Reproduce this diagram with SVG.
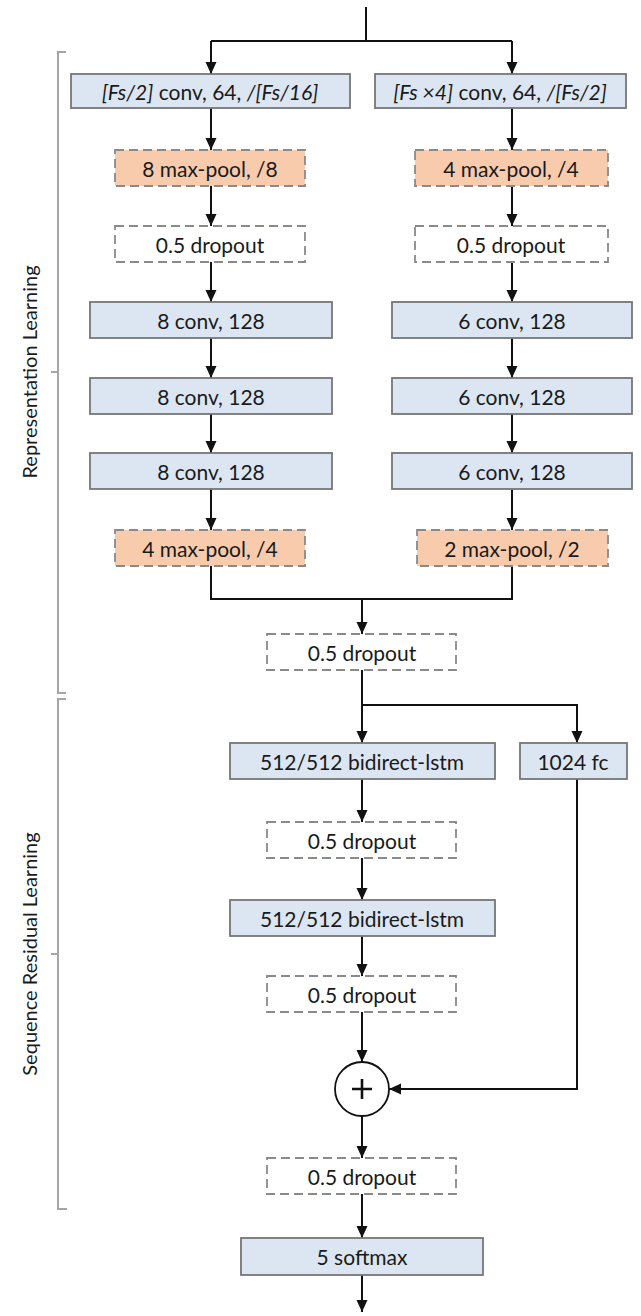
<svg xmlns="http://www.w3.org/2000/svg" width="641" height="1316" viewBox="0 0 641 1316">
  <style>
    .blue { fill: #dce6f2; stroke: #767676; stroke-width: 1.8; }
    .pool { fill: #f8cbad; stroke: #8a8a8a; stroke-width: 1.8; stroke-dasharray: 9 5; }
    .drop { fill: #ffffff; stroke: #8a8a8a; stroke-width: 1.8; stroke-dasharray: 9 5; }
    .lbl { font-family: Lato, "Open Sans", sans-serif; font-size: 21px; fill: #1a1a1a; text-anchor: middle; dominant-baseline: central; }
    .it { font-style: italic; }
    .edge { fill: none; stroke: #111111; stroke-width: 2; }
    .brk { fill: none; stroke: #a6a6a6; stroke-width: 2; }
    .side { font-family: Lato, "Open Sans", sans-serif; font-size: 20px; fill: #1a1a1a; text-anchor: middle; dominant-baseline: central; }
  </style>
  <defs>
    <marker id="arr" markerUnits="userSpaceOnUse" markerWidth="12" markerHeight="12" refX="12" refY="6" orient="auto">
      <path d="M0,0.5 L12,6 L0,11.5 z" fill="#111111"/>
    </marker>
  </defs>
  <rect width="641" height="1316" fill="#ffffff"/>

  <!-- section brackets -->
  <g id="brackets">
    <path class="brk" d="M66,52 H58 V693 H66 M58,372 H51"/>
    <path class="brk" d="M66,699 H58 V1209 H67 M58,954 H51"/>
    <text class="side" transform="translate(29,372) rotate(-90)">Representation Learning</text>
    <text class="side" transform="translate(29,954) rotate(-90)">Sequence Residual Learning</text>
  </g>

  <!-- connectors -->
  <g id="connectors">
    <path class="edge" d="M366,7 V41"/>
    <path class="edge" d="M211,41 H512"/>
    <path class="edge" d="M211,41 V74" marker-end="url(#arr)"/>
    <path class="edge" d="M512,41 V74" marker-end="url(#arr)"/>
    <!-- left branch -->
    <path class="edge" d="M211,108 V150" marker-end="url(#arr)"/>
    <path class="edge" d="M211,186 V226" marker-end="url(#arr)"/>
    <path class="edge" d="M211,262 V302" marker-end="url(#arr)"/>
    <path class="edge" d="M211,338 V378" marker-end="url(#arr)"/>
    <path class="edge" d="M211,414 V453" marker-end="url(#arr)"/>
    <path class="edge" d="M211,489 V530" marker-end="url(#arr)"/>
    <!-- right branch -->
    <path class="edge" d="M512,108 V150" marker-end="url(#arr)"/>
    <path class="edge" d="M512,186 V226" marker-end="url(#arr)"/>
    <path class="edge" d="M512,262 V302" marker-end="url(#arr)"/>
    <path class="edge" d="M512,338 V378" marker-end="url(#arr)"/>
    <path class="edge" d="M512,414 V453" marker-end="url(#arr)"/>
    <path class="edge" d="M512,489 V530" marker-end="url(#arr)"/>
    <!-- merge -->
    <path class="edge" d="M211,566 V599 H512 V566"/>
    <path class="edge" d="M362,599 V634" marker-end="url(#arr)"/>
    <!-- split to lstm and fc -->
    <path class="edge" d="M362,670 V705"/>
    <path class="edge" d="M362,705 V743" marker-end="url(#arr)"/>
    <path class="edge" d="M362,705 H577 V743" marker-end="url(#arr)"/>
    <!-- main chain -->
    <path class="edge" d="M362,779 V822" marker-end="url(#arr)"/>
    <path class="edge" d="M362,858 V900" marker-end="url(#arr)"/>
    <path class="edge" d="M362,936 V976" marker-end="url(#arr)"/>
    <path class="edge" d="M362,1012 V1062" marker-end="url(#arr)"/>
    <path class="edge" d="M362,1116 V1158" marker-end="url(#arr)"/>
    <path class="edge" d="M362,1194 V1238" marker-end="url(#arr)"/>
    <path class="edge" d="M362,1275 V1312" marker-end="url(#arr)"/>
    <!-- residual skip -->
    <path class="edge" d="M577,779 V1089 H389" marker-end="url(#arr)"/>
  </g>

  <!-- left branch nodes -->
  <g id="conv-fs2">
    <rect class="blue" x="71" y="74" width="279" height="34"/>
    <text class="lbl" x="210" y="91"><tspan class="it">[Fs/2]</tspan> conv, 64, <tspan class="it">/[Fs/16]</tspan></text>
  </g>
  <g id="pool-8">
    <rect class="pool" x="115" y="150" width="190" height="36"/>
    <text class="lbl" x="210" y="168">8 max-pool, /8</text>
  </g>
  <g id="drop-left">
    <rect class="drop" x="115" y="226" width="190" height="36"/>
    <text class="lbl" x="210" y="244">0.5 dropout</text>
  </g>
  <g id="conv8-a">
    <rect class="blue" x="90" y="302" width="242" height="36"/>
    <text class="lbl" x="211" y="320">8 conv, 128</text>
  </g>
  <g id="conv8-b">
    <rect class="blue" x="90" y="378" width="242" height="36"/>
    <text class="lbl" x="211" y="396">8 conv, 128</text>
  </g>
  <g id="conv8-c">
    <rect class="blue" x="90" y="453" width="242" height="36"/>
    <text class="lbl" x="211" y="471">8 conv, 128</text>
  </g>
  <g id="pool-4">
    <rect class="pool" x="115" y="530" width="190" height="36"/>
    <text class="lbl" x="210" y="548">4 max-pool, /4</text>
  </g>

  <!-- right branch nodes -->
  <g id="conv-fs4">
    <rect class="blue" x="375" y="74" width="251" height="34"/>
    <text class="lbl" x="500" y="91"><tspan class="it">[Fs ×4]</tspan> conv, 64, <tspan class="it">/[Fs/2]</tspan></text>
  </g>
  <g id="pool-4r">
    <rect class="pool" x="415" y="150" width="193" height="36"/>
    <text class="lbl" x="511" y="168">4 max-pool, /4</text>
  </g>
  <g id="drop-right">
    <rect class="drop" x="415" y="226" width="193" height="36"/>
    <text class="lbl" x="511" y="244">0.5 dropout</text>
  </g>
  <g id="conv6-a">
    <rect class="blue" x="392" y="302" width="240" height="36"/>
    <text class="lbl" x="512" y="320">6 conv, 128</text>
  </g>
  <g id="conv6-b">
    <rect class="blue" x="392" y="378" width="240" height="36"/>
    <text class="lbl" x="512" y="396">6 conv, 128</text>
  </g>
  <g id="conv6-c">
    <rect class="blue" x="392" y="453" width="240" height="36"/>
    <text class="lbl" x="512" y="471">6 conv, 128</text>
  </g>
  <g id="pool-2">
    <rect class="pool" x="417" y="530" width="191" height="36"/>
    <text class="lbl" x="512" y="548">2 max-pool, /2</text>
  </g>

  <!-- sequence part -->
  <g id="drop-merge">
    <rect class="drop" x="267" y="634" width="189" height="36"/>
    <text class="lbl" x="362" y="652">0.5 dropout</text>
  </g>
  <g id="lstm-1">
    <rect class="blue" x="230" y="743" width="265" height="36"/>
    <text class="lbl" x="362" y="761">512/512 bidirect-lstm</text>
  </g>
  <g id="fc-1024">
    <rect class="blue" x="520" y="743" width="107" height="36"/>
    <text class="lbl" x="573" y="761">1024 fc</text>
  </g>
  <g id="drop-lstm1">
    <rect class="drop" x="267" y="822" width="189" height="36"/>
    <text class="lbl" x="362" y="840">0.5 dropout</text>
  </g>
  <g id="lstm-2">
    <rect class="blue" x="230" y="900" width="265" height="36"/>
    <text class="lbl" x="362" y="918">512/512 bidirect-lstm</text>
  </g>
  <g id="drop-lstm2">
    <rect class="drop" x="267" y="976" width="189" height="36"/>
    <text class="lbl" x="362" y="994">0.5 dropout</text>
  </g>
  <g id="add">
    <circle cx="362" cy="1089" r="27" fill="#ffffff" stroke="#111111" stroke-width="1.8"/>
    <path d="M352,1089 H372 M362,1079 V1099" stroke="#111111" stroke-width="2.6" fill="none"/>
  </g>
  <g id="drop-sum">
    <rect class="drop" x="267" y="1158" width="189" height="36"/>
    <text class="lbl" x="362" y="1176">0.5 dropout</text>
  </g>
  <g id="softmax">
    <rect class="blue" x="241" y="1238" width="242" height="37"/>
    <text class="lbl" x="362" y="1256">5 softmax</text>
  </g>
</svg>
